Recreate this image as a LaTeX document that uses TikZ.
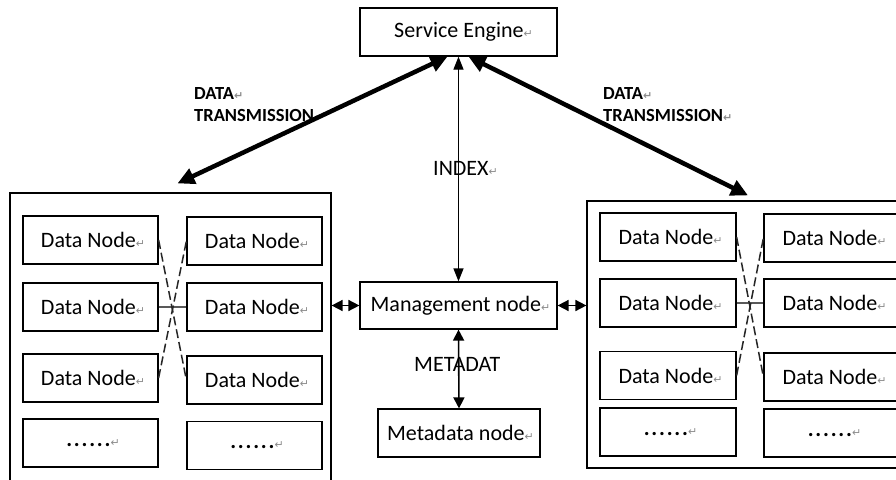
\documentclass[tikz,border=0pt]{standalone}
\usepackage{fontspec}
\setmainfont{Carlito}
\newfontfamily\dejavu{DejaVu Sans}
\usetikzlibrary{arrows.meta}
\newcommand\retmk{{\dejavu\fontsize{11}{11}\selectfont\textcolor{black!45}{↵}}}
\newcommand\dotrow{{\bfseries .\kern1.8pt.\kern1.8pt.\kern1.8pt.\kern1.8pt.\kern1.8pt.}}
\begin{document}
\begin{tikzpicture}[x=1pt,y=-1pt,
  box/.style={draw, line width=1.2pt, inner sep=0pt, minimum width=135pt, minimum height=48pt,
    font=\fontsize{22}{26}\selectfont},
  wbox/.style={box, minimum width=136pt},
  container/.style={draw, line width=1.2pt, inner sep=0pt},
  lbl/.style={inner sep=0pt, font=\fontsize{22}{26}\selectfont},
  blbl/.style={inner sep=0pt, anchor=north west, font=\bfseries\fontsize{18.5}{22}\selectfont},
  bigarrow/.style={line width=4.5pt, {Triangle[length=17pt,width=16pt]}-{Triangle[length=17pt,width=16pt]}},
  thinarrow/.style={line width=1.2pt, {Triangle[length=13pt,width=10pt]}-{Triangle[length=13pt,width=10pt]}},
  medarrow/.style={line width=1.6pt, {Triangle[length=11pt,width=11pt]}-{Triangle[length=11pt,width=11pt]}},
  cross/.style={line width=1.5pt, black!85, dash pattern=on 9pt off 4pt},
  link/.style={line width=1.6pt, black!65}
]
\useasboundingbox (0,0) rectangle (896,479);
\fill[white] (0,0) rectangle (896,479);
\clip (0,0) rectangle (896,479);

% containers
\node[container, minimum width=321pt, minimum height=297pt] (lc) at (170.5,341.5) {};
\node[container, minimum width=318pt, minimum height=267pt] (rc) at (746,334.5) {};

% top / middle nodes
\node[box, minimum width=197pt] (se) at (458.5,32) {\hspace{10pt}Service Engine\retmk};
\node[box, minimum width=197pt, minimum height=47pt] (mg) at (458.5,305.5) {\hspace{4pt}Management node\retmk};
\node[box, minimum width=162pt] (md) at (459,433) {\hspace{3pt}Metadata node\retmk};

% left data nodes
\node[box] (l11) at (90.5,240) {\hspace{5pt}Data Node\retmk};
\node[box] (l21) at (90.5,307) {\hspace{5pt}Data Node\retmk};
\node[box] (l31) at (90.5,378) {\hspace{5pt}Data Node\retmk};
\node[box] (l41) at (90.5,443) {\hspace{5pt}\dotrow\retmk};
\node[box] (l12) at (254.5,241) {\hspace{5pt}Data Node\retmk};
\node[box] (l22) at (254.5,307) {\hspace{5pt}Data Node\retmk};
\node[box] (l32) at (254.5,380) {\hspace{5pt}Data Node\retmk};
\node[box] (l42) at (254.5,445.5) {\hspace{5pt}\dotrow\retmk};

% right data nodes
\node[wbox] (r11) at (668,237) {\hspace{5pt}Data Node\retmk};
\node[wbox] (r21) at (668,303) {\hspace{5pt}Data Node\retmk};
\node[wbox] (r31) at (668,375.5) {\hspace{5pt}Data Node\retmk};
\node[wbox] (r41) at (668,432) {\hspace{5pt}\dotrow\retmk};
\node[wbox] (r12) at (832,238) {\hspace{5pt}Data Node\retmk};
\node[wbox] (r22) at (832,303) {\hspace{5pt}Data Node\retmk};
\node[wbox] (r32) at (832,377) {\hspace{5pt}Data Node\retmk};
\node[wbox] (r42) at (832,433) {\hspace{5pt}\dotrow\retmk};

% links inside containers
\draw[link] (l21.east) -- (l22.west);
\draw[cross] (l11.east) -- (l32.west);
\draw[cross] (l31.east) -- (l12.west);
\draw[link] (r21.east) -- (r22.west);
\draw[cross] (r11.east) -- (r32.west);
\draw[cross] (r31.east) -- (r12.west);

% labels
\node[blbl] (dtl1) at (194,87) {DATA\retmk};
\node[blbl] (dtl2) at (194,109) {TRANSMISSION\retmk};
\node[blbl] (dtr1) at (603,87) {DATA\retmk};
\node[blbl] (dtr2) at (603,109) {TRANSMISSION\retmk};
\node[lbl, anchor=north west] (idx) at (433,161) {INDEX\retmk};
\node[lbl, anchor=north west] (meta) at (414,357) {METADAT};

% connectors
\draw[bigarrow] ([xshift=7pt,yshift=9pt]lc.north) -- ([xshift=-11pt]se.south);
\draw[bigarrow] ([xshift=10pt]se.south) -- ([xshift=2pt,yshift=5pt]rc.north);
\draw[thinarrow] (se.south) -- (mg.north);
\draw[medarrow] (mg.south) -- (md.north);
\draw[medarrow] (mg.west -| lc.east) -- (mg.west);
\draw[medarrow] (mg.east) -- (mg.east -| rc.west);
\end{tikzpicture}
\end{document}
